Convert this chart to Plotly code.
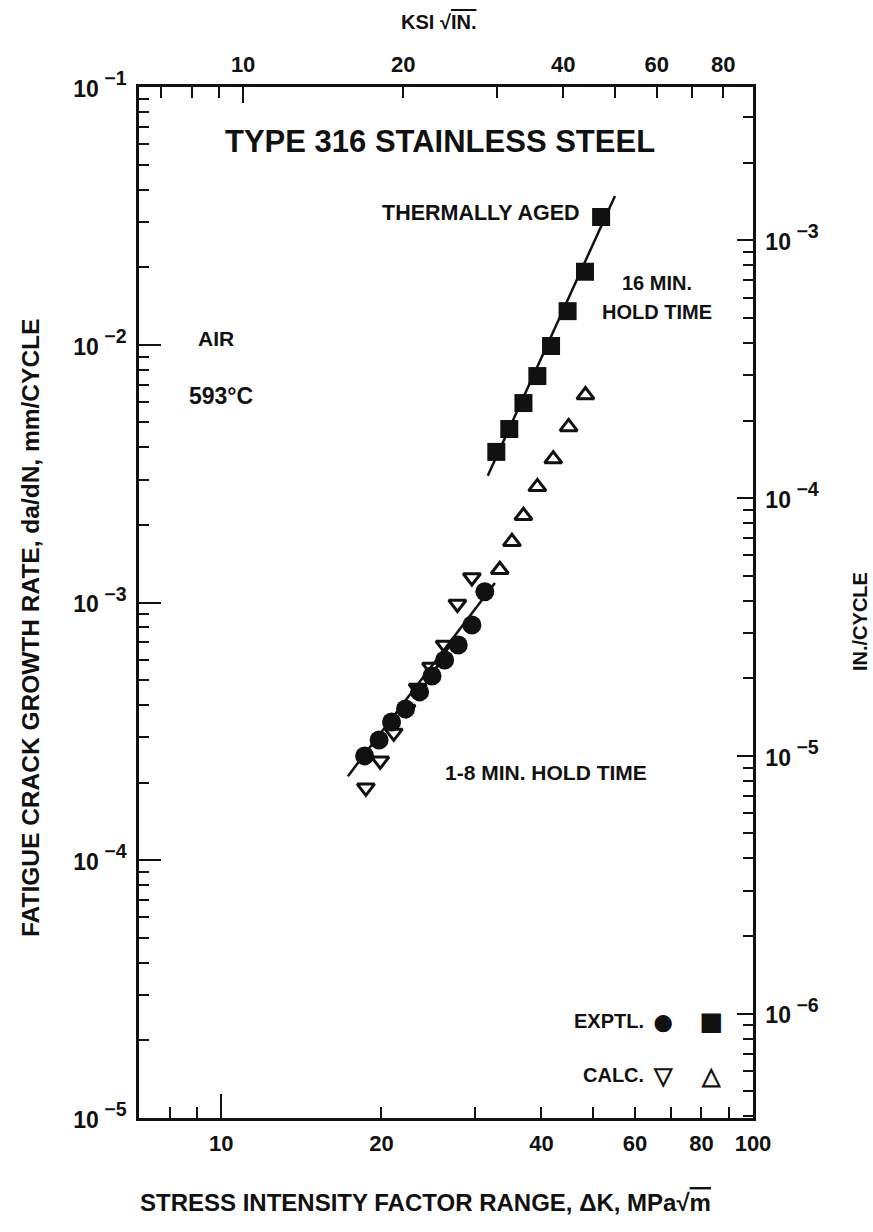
import plotly.graph_objects as go
import numpy as np

# ---------------- data ----------------
# EXPTL., 1-8 min hold time (filled circles)
exptl_hold_k = [18.6, 19.8, 20.9, 22.2, 23.6, 24.9, 26.3, 27.9, 29.6, 31.3]
exptl_hold_rate = [2.54e-4, 2.93e-4, 3.44e-4, 3.86e-4, 4.50e-4, 5.19e-4, 5.98e-4, 6.84e-4, 8.18e-4, 1.10e-3]

# CALC., 1-8 min hold time (open down triangles)
calc_hold_k = [18.7, 19.9, 21.1, 22.3, 23.4, 24.8, 26.3, 27.8, 29.6]
calc_hold_rate = [1.91e-4, 2.43e-4, 3.12e-4, 3.86e-4, 4.66e-4, 5.62e-4, 6.84e-4, 9.87e-4, 1.25e-3]

# EXPTL., thermally aged, 16 min hold time (filled squares)
exptl_aged_k = [32.9, 34.8, 37.0, 39.3, 41.7, 44.8, 48.3, 51.8]
exptl_aged_rate = [3.84e-3, 4.71e-3, 5.94e-3, 7.56e-3, 9.89e-3, 1.35e-2, 1.92e-2, 3.13e-2]

# CALC., thermally aged, 16 min hold time (open up triangles)
calc_aged_k = [33.4, 35.2, 37.0, 39.3, 42.1, 45.0, 48.4]
calc_aged_rate = [1.34e-3, 1.72e-3, 2.17e-3, 2.81e-3, 3.60e-3, 4.80e-3, 6.38e-3]

# fitted lines (end points)
fit_hold_k = [17.3, 32.7]
fit_hold_rate = [2.12e-4, 1.19e-3]
fit_aged_k = [31.7, 55.0]
fit_aged_rate = [3.10e-3, 3.78e-2]

# axes
x_range_mpa = [7.0, 100.0]
y_range_mm = [1e-5, 1e-1]
KSI_TO_MPA = 1.0988
MM_PER_IN = 25.4

x_labels = [10, 20, 40, 60, 80, 100]
x_minor = [8, 9, 30, 50, 70, 90]
top_labels = [10, 20, 40, 60, 80]
top_minor = [7, 8, 9, 30, 50, 70]
y_decades = [1e-5, 1e-4, 1e-3, 1e-2, 1e-1]
y_exponents = [-5, -4, -3, -2, -1]
y2_decades = [1e-6, 1e-5, 1e-4, 1e-3]
y2_exponents = [-6, -5, -4, -3]

FONT = "Liberation Sans"
BLACK = "#111111"


def power_label(e):
    return "<span style='font-size:23px'>10</span><sup> −%d</sup>" % abs(e)


def minor_vals(lo_exp, hi_exp):
    return [m * 10.0 ** e for e in range(lo_exp, hi_exp + 1) for m in range(2, 10)]


fig = go.Figure()

# fit lines
fig.add_trace(go.Scatter(x=fit_hold_k, y=fit_hold_rate, mode="lines",
                         line=dict(color=BLACK, width=2.5), showlegend=False, hoverinfo="skip"))
fig.add_trace(go.Scatter(x=fit_aged_k, y=fit_aged_rate, mode="lines",
                         line=dict(color=BLACK, width=2.5), showlegend=False, hoverinfo="skip"))

# points
fig.add_trace(go.Scatter(x=calc_hold_k, y=calc_hold_rate, mode="markers", name="CALC.",
                         marker=dict(symbol="triangle-down-open", size=15, color=BLACK,
                                     line=dict(width=3, color=BLACK)), showlegend=False))
fig.add_trace(go.Scatter(x=calc_aged_k, y=calc_aged_rate, mode="markers", name="CALC.",
                         marker=dict(symbol="triangle-up-open", size=15, color=BLACK,
                                     line=dict(width=3, color=BLACK)), showlegend=False))
fig.add_trace(go.Scatter(x=exptl_hold_k, y=exptl_hold_rate, mode="markers", name="EXPTL.",
                         marker=dict(symbol="circle", size=19, color=BLACK), showlegend=False))
fig.add_trace(go.Scatter(x=exptl_aged_k, y=exptl_aged_rate, mode="markers", name="EXPTL.",
                         marker=dict(symbol="square", size=18, color=BLACK), showlegend=False))

# invisible carriers so the secondary axes get drawn
for xa, ya in (("x2", "y"), ("x3", "y"), ("x4", "y"), ("x", "y2")):
    fig.add_trace(go.Scatter(x=[None], y=[None], xaxis=xa, yaxis=ya, mode="markers",
                             showlegend=False, hoverinfo="skip"))

tickfont = dict(family=FONT, size=22, color=BLACK, weight="bold")
powfont = dict(family=FONT, size=28, color=BLACK, weight="bold")
axis_common = dict(showgrid=False, zeroline=False, showline=True, linecolor=BLACK, linewidth=2.5,
                   ticks="inside", tickcolor=BLACK, tickwidth=2)

log_x = [np.log10(v) for v in x_range_mpa]
log_top = [np.log10(v / KSI_TO_MPA) for v in x_range_mpa]

fig.update_layout(
    width=873, height=1232,
    margin=dict(l=139, r=120, t=87, b=114),
    paper_bgcolor="white", plot_bgcolor="white",
    showlegend=False,
    xaxis=dict(type="log", range=log_x, tickfont=tickfont,
               tickvals=x_labels, ticktext=[str(v) for v in x_labels], ticklen=11,
               minor=dict(tickvals=x_minor, ticks="inside", ticklen=11,
                          tickcolor=BLACK, tickwidth=2),
               ticklabelstandoff=4, **axis_common),
    xaxis2=dict(type="log", overlaying="x", side="top", anchor="y", range=log_top, tickfont=tickfont,
                tickvals=top_labels, ticktext=[str(v) for v in top_labels], ticklen=11,
                minor=dict(tickvals=top_minor, ticks="inside", ticklen=11,
                           tickcolor=BLACK, tickwidth=2),
                ticklabelstandoff=3, **axis_common),
    # long tick at 10 on the bottom axis
    xaxis3=dict(type="log", overlaying="x", side="bottom", anchor="y", range=log_x,
                tickvals=[10], ticktext=[""], ticks="inside", ticklen=24, tickwidth=2,
                tickcolor=BLACK, showline=False, showgrid=False, zeroline=False),
    # long tick at 10 on the top axis
    xaxis4=dict(type="log", overlaying="x", side="top", anchor="y", range=log_top,
                tickvals=[10], ticktext=[""], ticks="inside", ticklen=16, tickwidth=2,
                tickcolor=BLACK, showline=False, showgrid=False, zeroline=False),
    yaxis=dict(type="log", range=[np.log10(v) for v in y_range_mm], tickfont=powfont,
               tickvals=y_decades, ticktext=[power_label(e) for e in y_exponents], ticklen=22,
               minor=dict(tickvals=minor_vals(-5, -2), ticks="inside", ticklen=10,
                          tickcolor=BLACK, tickwidth=2),
               ticklabelstandoff=4, **axis_common),
    yaxis2=dict(type="log", overlaying="y", side="right", anchor="x", tickfont=powfont,
                range=[np.log10(v / MM_PER_IN) for v in y_range_mm],
                tickvals=y2_decades, ticktext=[power_label(e) for e in y2_exponents], ticklen=16,
                minor=dict(tickvals=minor_vals(-7, -3), ticks="inside", ticklen=10,
                           tickcolor=BLACK, tickwidth=2),
                ticklabelstandoff=4, **axis_common),
)


def ann(text, x, y, size, xanchor="center", yanchor="middle", angle=0):
    fig.add_annotation(text=text, x=x, y=y, xref="paper", yref="paper", showarrow=False,
                       xanchor=xanchor, yanchor=yanchor, textangle=angle,
                       font=dict(family=FONT, size=size, color=BLACK, weight="bold"))


# paper-coordinate helpers: plot area spans x 139..753, y 87..1118
L, R, T, B = 139, 753, 87, 1118


def px(xp):
    return (xp - L) / (R - L)


def py(yp):
    return (B - yp) / (B - T)


ann("TYPE 316 STAINLESS STEEL", px(440), py(141), 31)
ann("THERMALLY AGED", px(582), py(213), 21.5, xanchor="right")
ann("16 MIN.", px(657), py(283), 20)
ann("HOLD TIME", px(657), py(312), 20)
ann("AIR", px(216), py(338), 21)
ann("593°C", px(221), py(396), 23)
ann("1-8 MIN. HOLD TIME", px(546), py(772), 21)
ann("EXPTL.", px(646), py(1021), 20, xanchor="right")
ann("●", px(663), py(1021), 40)
ann("■", px(711), py(1021), 40)
ann("CALC.", px(646), py(1075), 20, xanchor="right")
ann("▽", px(663), py(1075), 24)
ann("△", px(711), py(1075), 24)

ann("KSI √<span style='text-decoration:overline'>IN.</span>", px(438), py(22), 20)
ann("STRESS INTENSITY FACTOR RANGE, ΔK, MPa√<span style='text-decoration:overline'>m</span>",
    px(425), py(1202), 24)
ann("FATIGUE CRACK GROWTH RATE, da/dN, mm/CYCLE", px(30), py(628), 24.5, angle=-90)
ann("IN./CYCLE", px(860), py(622), 20, angle=-90)

fig.write_html("out.html", config={"displayModeBar": False},
               post_script="document.body.style.margin='0';")
